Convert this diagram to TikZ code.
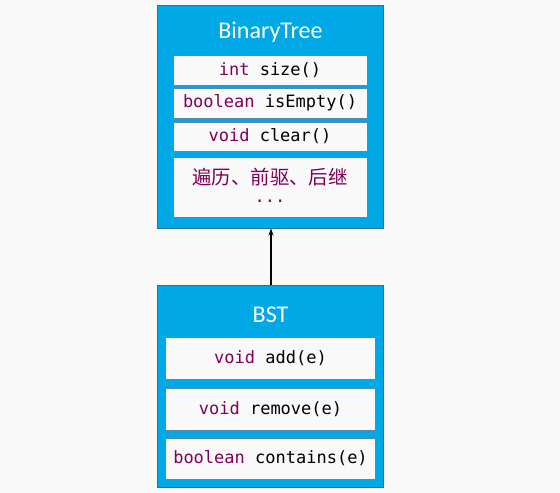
\documentclass[tikz,border=0pt]{standalone}
\usepackage{fontspec}
\setmainfont{Carlito}
\newfontfamily\monof{DejaVu Sans Mono}
\newfontfamily\cjkf{Noto Sans CJK SC}
\usetikzlibrary{arrows.meta}
\definecolor{bgc}{HTML}{F9F9F9}
\definecolor{bluef}{HTML}{00A8E6}
\definecolor{blued}{HTML}{2F6FA8}
\definecolor{innerd}{HTML}{5A86AA}
\definecolor{kw}{HTML}{7F0055}
\newcommand{\kwd}[1]{\textcolor{kw}{#1}}
\tikzset{
  classbox/.style={draw=blued, fill=bluef, line width=1pt, inner sep=0pt},
  title/.style={text=white, font=\fontsize{24}{28}\selectfont},
  method/.style={draw=innerd, fill=bgc, line width=1pt, inner sep=0pt, align=center,
    font=\monof\fontsize{17}{20}\selectfont},
}
\begin{document}
\begin{tikzpicture}[x=1pt,y=-1pt]
\fill[bgc] (0,0) rectangle (560,493);
\useasboundingbox (0,0) rectangle (560,493);
% BinaryTree
\node[classbox, minimum width=226pt, minimum height=223pt] (bt) at (270.5,116.5) {};
\node[title] (btt) at (270.5,32) {BinaryTree};
\node[method, minimum width=194pt, minimum height=30pt] (m1) at (270,70) {\kwd{int} size()};
\node[method, minimum width=194pt, minimum height=30pt] (m2) at (270,103) {\kwd{boolean} isEmpty()};
\node[method, minimum width=194pt, minimum height=29pt] (m3) at (270,136.5) {\kwd{void} clear()};
\node[method, minimum width=194pt, minimum height=60pt] (m4) at (270,187) {};
\node[text=kw, font=\cjkf\fontsize{19.4}{23}\selectfont] (m4a) at (270,177) {遍历、前驱、后继};
\node[text=kw, font=\monof\fontsize{17}{20}\selectfont] (m4b) at (270,201) {...};
% BST
\node[classbox, minimum width=226pt, minimum height=202pt] (bst) at (270.5,386) {};
\node[title] (bstt) at (270.5,315) {BST};
\node[method, minimum width=210pt, minimum height=42pt] (n1) at (270.5,358) {\kwd{void} add(e)};
\node[method, minimum width=210pt, minimum height=42pt] (n2) at (270.5,409) {\kwd{void} remove(e)};
\node[method, minimum width=210pt, minimum height=41pt] (n3) at (270.5,458.5) {\kwd{boolean} contains(e)};
% arrow
\coordinate (a0) at (bst.north -| 271,0);
\draw[-{Stealth[length=7pt,width=5pt]}, line width=1.5pt] (a0) -- (a0 |- bt.south);
\end{tikzpicture}
\end{document}
